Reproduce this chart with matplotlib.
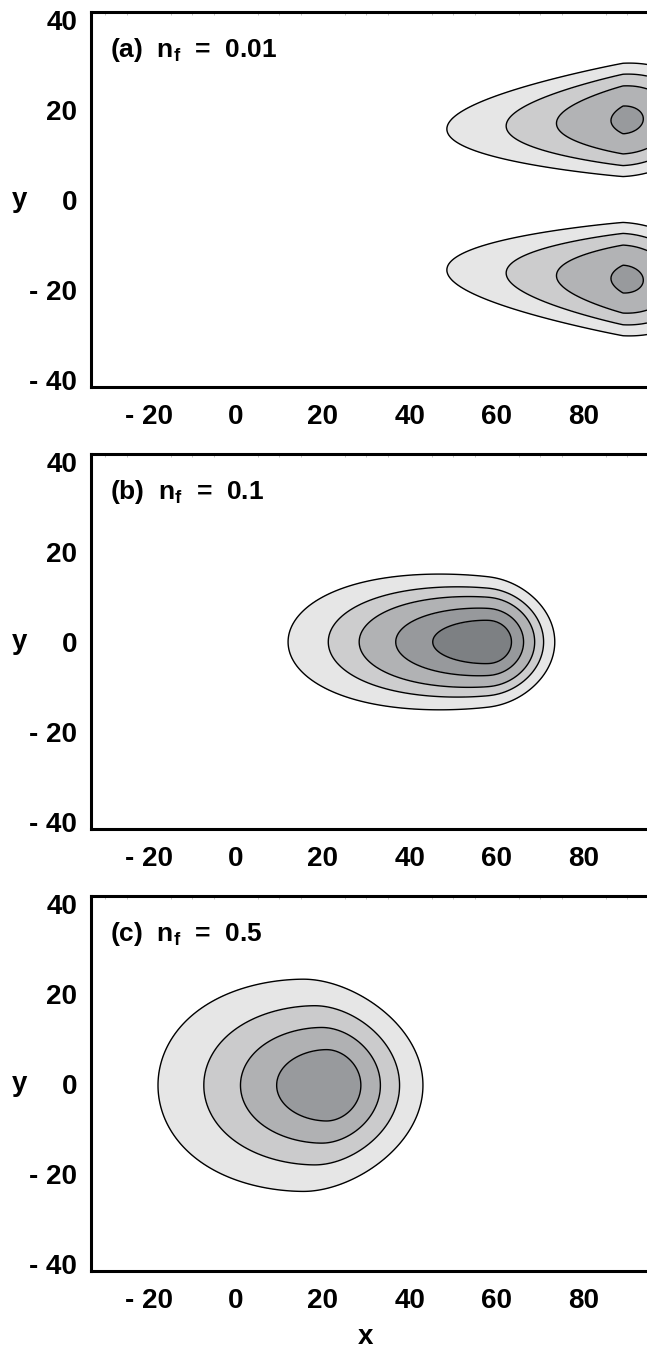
import matplotlib
matplotlib.use('Agg')
import matplotlib.pyplot as plt
import numpy as np
from matplotlib.ticker import MultipleLocator

plt.rcParams['font.family'] = ['Liberation Sans', 'DejaVu Sans']
plt.rcParams['font.weight'] = 'bold'
plt.rcParams['mathtext.fontset'] = 'custom'
plt.rcParams['mathtext.rm'] = 'Liberation Sans:bold'
plt.rcParams['mathtext.bf'] = 'Liberation Sans:bold'

# assi
x_ticks = [-20, 0, 20, 40, 60, 80]
x_labels = ['- 20', '0', '20', '40', '60', '80']
y_ticks = [-40, -20, 0, 20, 40]
y_labels = ['- 40', '- 20', '0', '20', '40']
x_lim = (-33.3, 94.5)
y_lim = (-41.6, 41.8)

etichette = ['(a)  n$_\\mathbf{f}$  =  0.01', '(b)  n$_\\mathbf{f}$  =  0.1', '(c)  n$_\\mathbf{f}$  =  0.5']

# parametri delle macchie:
# centro x, centro y, semiasse sx, esponente sx, semiasse dx, esponente dx, semiasse y,
# allargamento, inclinazione, spostamento dei bordi
macchie_a = [(89, 17.8, 40.5, 1.05, 19, 2.0, 12.6, 0.0, 0.05, 0.0),
             (89, -17.6, 40.5, 1.05, 19, 2.0, 12.6, 0.0, -0.05, 0.0)]
macchie_b = [(58, 0.0, 46, 1.72, 15.3, 2.1, 14.5, 0.37, 0.0, 0.0)]
macchie_c = [(21.5, -0.3, 39.4, 1.85, 21.5, 2.0, 23.6, 0.0, 0.0, 6.0)]

livelli_a = [0.06, 0.36, 0.65, 1.0]
livelli_b = [0.11, 0.265, 0.47, 0.68, 1.0]
livelli_c = [0.113, 0.297, 0.5625, 1.0]

colori_a = ['#989a9d', '#b2b3b5', '#cccccd', '#e6e6e6']
colori_b = ['#7d8083', '#97999c', '#b1b2b4', '#cdcdce', '#e6e6e6']
colori_c = ['#989a9d', '#b0b1b3', '#cbcbcc', '#e6e6e6']


def campo(X, Y, macchie):
    Q = np.full(X.shape, np.inf)
    for (x0, y0, aL, pL, aR, pR, b, k, tilt, sposta) in macchie:
        yc = y0 + tilt * (X - x0)
        dx = X - x0 + sposta * ((Y - yc) / b) ** 2
        s = np.clip(-dx / aL, -0.6, 1.5)
        sy = b * (1 + k * s)
        qx = np.where(dx < 0, (np.abs(dx) / aL) ** pL, (np.abs(dx) / aR) ** pR)
        Q = np.minimum(Q, qx + ((Y - yc) / sy) ** 2)
    return Q


xx = np.linspace(x_lim[0], x_lim[1], 700)
yy = np.linspace(y_lim[0], y_lim[1], 500)
X, Y = np.meshgrid(xx, yy)

fig = plt.figure(figsize=(6.47, 13.5), dpi=100)

left = 91 / 647
width = 1 - left
bottoms = [1 - 387 / 1350, 1 - 829 / 1350, 1 - 1271 / 1350]
height = 375 / 1350

pannelli = [(macchie_a, livelli_a, colori_a),
            (macchie_b, livelli_b, colori_b),
            (macchie_c, livelli_c, colori_c)]

for i, (macchie, livelli, colori) in enumerate(pannelli):
    ax = fig.add_axes([left, bottoms[i], width, height])
    Q = campo(X, Y, macchie)
    ax.contourf(X, Y, Q, levels=[0] + livelli, colors=colori)
    ax.contour(X, Y, Q, levels=livelli, colors='k', linewidths=1.0)

    ax.set_xlim(*x_lim)
    ax.set_ylim(*y_lim)
    ax.set_xticks(x_ticks)
    ax.set_xticklabels(x_labels)
    ax.set_yticks(y_ticks)
    ax.set_yticklabels(y_labels)
    ax.tick_params(axis='both', length=0, labelsize=20)
    ax.tick_params(axis='x', pad=12)
    ax.tick_params(axis='y', pad=10)
    ax.xaxis.set_minor_locator(MultipleLocator(5))
    ax.tick_params(axis='x', which='minor', top=True, bottom=False, direction='in',
                   length=2, width=0.6, color='#bbbbbb')

    for lato in ['left', 'bottom', 'top']:
        ax.spines[lato].set_linewidth(2.2)
    ax.spines['right'].set_visible(False)

    ax.text(0.034, 0.9, etichette[i], transform=ax.transAxes, fontsize=19,
            fontweight='bold', va='center', ha='left')

    ax.set_ylabel('y', rotation=0, fontsize=20, fontweight='bold',
                  ha='center', va='center')
    ax.yaxis.set_label_coords(-0.128, 0.498)

fig.text(365 / 647, 1 - 1337 / 1350, 'x', fontsize=20, fontweight='bold',
         ha='center', va='center')

fig.savefig('out.png', dpi=100)
